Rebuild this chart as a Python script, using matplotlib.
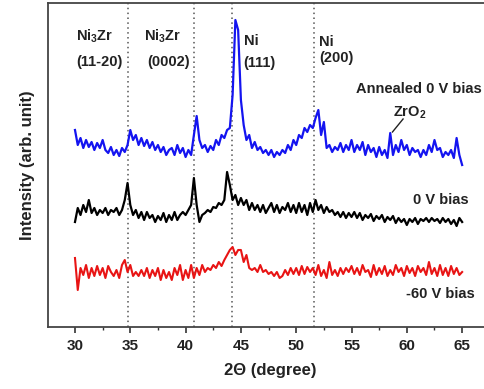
import numpy as np
import matplotlib
matplotlib.use("Agg")
import matplotlib.pyplot as plt

plt.rcParams['font.family'] = ['Liberation Sans', 'DejaVu Sans']
plt.rcParams['mathtext.fontset'] = 'custom'
plt.rcParams['mathtext.rm'] = 'Liberation Sans:bold'
plt.rcParams['mathtext.bf'] = 'Liberation Sans:bold'
plt.rcParams['mathtext.it'] = 'Liberation Sans:bold'
plt.rcParams['mathtext.default'] = 'bf'

two_theta = np.linspace(30, 65, 141)

annealed_0v = [
    197, 182, 189, 179, 187, 180, 185, 177, 184, 179, 187, 177, 174, 180, 172, 177, 171, 179, 175, 182,
    197, 187, 192, 182, 189, 181, 187, 179, 185, 177, 182, 175, 180, 172, 177, 179, 172, 182, 174, 179,
    170, 177, 172, 192, 211, 187, 179, 182, 175, 181, 177, 187, 182, 192, 189, 197, 199, 232, 307, 297,
    227, 202, 187, 192, 179, 185, 177, 180, 174, 177, 172, 177, 170, 175, 172, 177, 174, 182, 177, 187,
    182, 192, 189, 199, 195, 202, 199, 209, 217, 192, 205, 179, 182, 175, 180, 177, 184, 175, 182, 177,
    187, 175, 182, 177, 185, 172, 182, 175, 179, 170, 180, 172, 177, 169, 194, 172, 182, 175, 187, 177,
    182, 172, 179, 175, 177, 170, 177, 172, 182, 175, 187, 177, 179, 170, 175, 172, 177, 169, 189, 172,
    162,
]

bias_0v = [
    105, 119, 112, 122, 115, 127, 114, 119, 112, 117, 114, 119, 112, 117, 115, 119, 112, 117, 127, 144,
    122, 112, 117, 109, 115, 107, 115, 109, 112, 105, 111, 107, 114, 105, 112, 107, 115, 107, 112, 115,
    112, 117, 122, 149, 122, 105, 112, 114, 117, 115, 120, 119, 124, 122, 127, 155, 142, 127, 132, 122,
    129, 122, 127, 117, 124, 117, 122, 115, 122, 114, 119, 124, 115, 122, 114, 120, 117, 124, 115, 122,
    114, 124, 115, 122, 112, 124, 115, 127, 117, 122, 114, 120, 115, 117, 112, 115, 110, 115, 109, 114,
    110, 115, 109, 114, 107, 112, 109, 113, 106, 111, 108, 112, 105, 110, 107, 111, 104, 109, 105, 108,
    102, 108, 105, 109, 103, 108, 106, 109, 105, 109, 106, 108, 104, 109, 105, 108, 103, 107, 101, 109,
    105,
]

bias_m60v = [
    69, 37, 59, 52, 62, 49, 59, 51, 61, 52, 59, 49, 61, 55, 51, 57, 49, 62, 67, 55,
    62, 51, 55, 51, 57, 51, 59, 49, 57, 51, 59, 47, 57, 49, 55, 47, 59, 52, 62, 47,
    57, 49, 62, 49, 59, 52, 62, 55, 59, 57, 62, 59, 65, 61, 67, 72, 77, 80, 72, 77,
    77, 65, 72, 59, 57, 59, 55, 62, 55, 57, 53, 55, 51, 55, 49, 51, 57, 52, 59, 53,
    59, 52, 61, 53, 60, 55, 59, 52, 62, 51, 57, 49, 65, 52, 57, 51, 59, 53, 59, 55,
    61, 53, 59, 52, 62, 55, 57, 50, 62, 52, 59, 53, 61, 51, 57, 52, 62, 55, 59, 51,
    61, 54, 59, 51, 61, 55, 59, 52, 65, 53, 59, 51, 62, 52, 59, 51, 61, 53, 59, 52,
    55,
]

ref_lines = [34.75, 40.75, 44.2, 51.65]
xticks = [30, 35, 40, 45, 50, 55, 60, 65]

W, H = 485, 389
fig = plt.figure(figsize=(W / 100, H / 100), dpi=100)
ax = fig.add_axes([48 / W, (H - 327) / H, (492 - 48) / W, 324 / H])

for xv in ref_lines:
    ax.axvline(xv, color='#555555', lw=1.1, ls=(0, (1, 2.2)), zorder=1)

ax.plot(two_theta, annealed_0v, color='#1414f0', lw=1.6, zorder=3)
ax.plot(two_theta, bias_0v, color='black', lw=1.6, zorder=3)
ax.plot(two_theta, bias_m60v, color='#e81414', lw=1.5, zorder=3)

ax.set_xlim(27.56, 67.7)
ax.set_ylim(0, 324)
ax.set_xticks(xticks)
ax.set_xticks([32.5, 37.5, 42.5, 47.5, 52.5, 57.5, 62.5], minor=True)
ax.set_yticks([])
ax.tick_params(axis='x', which='major', direction='out', length=4, width=1.2,
               labelsize=11, pad=5, colors='#333333', labelcolor='#222222')
ax.tick_params(axis='x', which='minor', direction='out', length=2.5, width=1.0, colors='#333333')
for lab in ax.get_xticklabels():
    lab.set_fontweight('bold')
ax.spines['right'].set_visible(False)
for s in ['left', 'bottom', 'top']:
    ax.spines[s].set_color('#444444')
    ax.spines[s].set_linewidth(1.3)

tk = dict(fontsize=10.5, fontweight='bold', color='#222222', va='center')
ax.text(30.05, 291, 'Ni$_3$Zr', ha='left', **tk)
ax.text(30.1, 265, '(11-20)', ha='left', **tk)
ax.text(36.2, 291, 'Ni$_3$Zr', ha='left', **tk)
ax.text(36.55, 265, '(0002)', ha='left', **tk)
ax.text(45.3, 286, 'Ni', ha='left', **tk)
ax.text(45.2, 264, '(111)', ha='left', **tk)
ax.text(52.05, 285, 'Ni', ha='left', **tk)
ax.text(52.05, 269, '(200)', ha='left', **tk)
ax.text(66.8, 238, 'Annealed 0 V bias', ha='right', **tk)
ax.text(58.75, 214, 'ZrO$_2$', ha='left', **tk)
ax.plot([59.66, 58.7], [208, 195], color='#222222', lw=1.0)
ax.text(65.6, 127, '0 V bias', ha='right', **tk)
ax.text(66.1, 33, '-60 V bias', ha='right', **tk)

ax.set_ylabel('Intensity (arb. unit)', fontsize=12, fontweight='bold', color='#222222', labelpad=9)
ax.set_xlabel('2\u0398 (degree)', fontsize=12, fontweight='bold', color='#222222', labelpad=7)

fig.savefig('out.png', dpi=100)
